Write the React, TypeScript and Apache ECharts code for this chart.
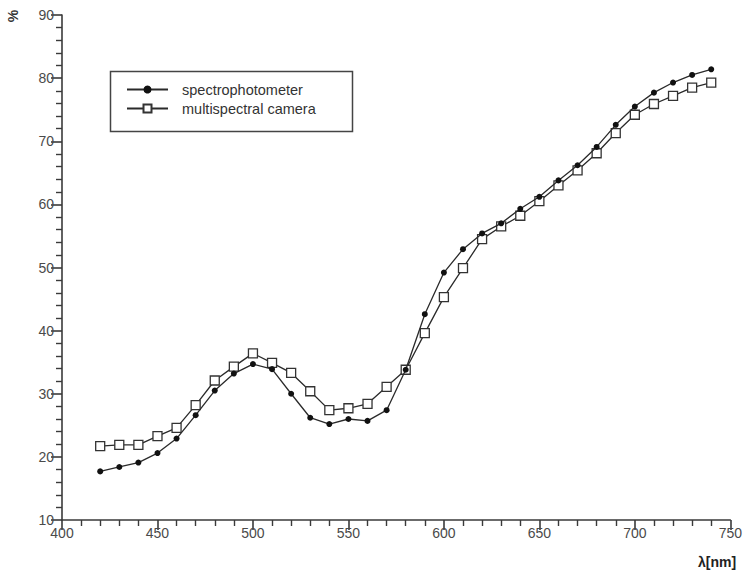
import React, { useEffect, useRef } from "react";
import * as echarts from "echarts";

const wavelengths = [420, 430, 440, 450, 460, 470, 480, 490, 500, 510, 520, 530, 540, 550, 560, 570, 580, 590, 600, 610, 620, 630, 640, 650, 660, 670, 680, 690, 700, 710, 720, 730, 740];
const spectrophotometer = [17.7, 18.4, 19.1, 20.6, 22.9, 26.6, 30.5, 33.2, 34.7, 33.9, 30.0, 26.2, 25.2, 26.0, 25.7, 27.4, 33.8, 42.6, 49.2, 52.9, 55.4, 57.0, 59.3, 61.2, 63.8, 66.2, 69.1, 72.6, 75.5, 77.7, 79.3, 80.5, 81.4];
const multispectralCamera = [21.7, 21.9, 21.9, 23.3, 24.6, 28.2, 32.1, 34.3, 36.4, 34.9, 33.3, 30.4, 27.4, 27.7, 28.4, 31.1, 33.8, 39.6, 45.3, 49.9, 54.5, 56.5, 58.2, 60.5, 63.0, 65.4, 68.1, 71.3, 74.2, 75.9, 77.2, 78.5, 79.3];
const seriesNames = ["spectrophotometer", "multispectral camera"];

const FONT = "Liberation Sans, Arial, sans-serif";
const AXIS = "#3a3a3a";

export default function App() {
  const ref = useRef<HTMLDivElement>(null);
  useEffect(() => {
    if (!ref.current) return;
    const chart = echarts.init(ref.current, null, { renderer: "svg" });
    const lineStyle = { color: "#2a2a2a", width: 1.3 };
    chart.setOption({
      animation: false,
      backgroundColor: "#ffffff",
      textStyle: { fontFamily: FONT },
      grid: { left: 62, right: 14, top: 15, bottom: 50, containLabel: false },
      legend: {
        orient: "vertical",
        left: 126,
        top: 82,
        padding: 0,
        itemWidth: 41,
        itemHeight: 10,
        itemGap: 4,
        selectedMode: false,
        data: seriesNames,
        textStyle: { fontFamily: FONT, fontSize: 14.5, color: "#333", padding: [0, 0, 0, 9] },
      },
      xAxis: {
        type: "value",
        min: 400,
        max: 750,
        interval: 50,
        axisLine: { show: true, onZero: false, lineStyle: { color: AXIS, width: 1.6 } },
        axisTick: { show: true, length: 10, lineStyle: { color: AXIS, width: 1.6 } },
        minorTick: { show: true, splitNumber: 5, length: 6, lineStyle: { color: AXIS, width: 1.4 } },
        splitLine: { show: false },
        axisLabel: { color: "#4a4a4a", fontSize: 14, fontFamily: FONT, margin: 6 },
      },
      yAxis: {
        type: "value",
        min: 10,
        max: 90,
        interval: 10,
        axisLine: { show: true, onZero: false, lineStyle: { color: AXIS, width: 1.6 } },
        axisTick: { show: true, length: 11, lineStyle: { color: AXIS, width: 1.6 } },
        minorTick: { show: true, splitNumber: 5, length: 6, lineStyle: { color: AXIS, width: 1.4 } },
        splitLine: { show: false },
        axisLabel: { color: "#4a4a4a", fontSize: 14, fontFamily: FONT, margin: 8 },
      },
      series: [
        {
          name: seriesNames[0],
          type: "line",
          data: wavelengths.map((w, i) => [w, spectrophotometer[i]]),
          symbol: "circle",
          symbolSize: 6,
          showAllSymbol: true,
          itemStyle: { color: "#111", borderColor: "#111", borderWidth: 0 },
          lineStyle,
          z: 3,
        },
        {
          name: seriesNames[1],
          type: "line",
          data: wavelengths.map((w, i) => [w, multispectralCamera[i]]),
          symbol: "rect",
          symbolSize: 9,
          showAllSymbol: true,
          itemStyle: { color: "#ffffff", borderColor: "#333", borderWidth: 1.3 },
          lineStyle,
          z: 2,
        },
      ],
      graphic: [
        {
          type: "rect",
          left: 108,
          top: 69,
          shape: { width: 242, height: 60 },
          style: { fill: "none", stroke: "#444", lineWidth: 1.5 },
          z: -1,
        },
        {
          type: "text",
          x: 13,
          y: 16,
          rotation: Math.PI / 2,
          style: { text: "%", fontFamily: FONT, fontSize: 14, fill: "#333", align: "center", verticalAlign: "middle", fontWeight: "bold" },
        },
        {
          type: "text",
          x: 717,
          y: 562,
          style: { text: "λ[nm]", fontFamily: FONT, fontSize: 14, fontWeight: "bold", fill: "#222", align: "center", verticalAlign: "middle" },
        },
      ],
    });
    return () => chart.dispose();
  }, []);
  return <div ref={ref} style={{ width: 745, height: 570, position: "absolute", left: 0, top: 0 }} />;
}
